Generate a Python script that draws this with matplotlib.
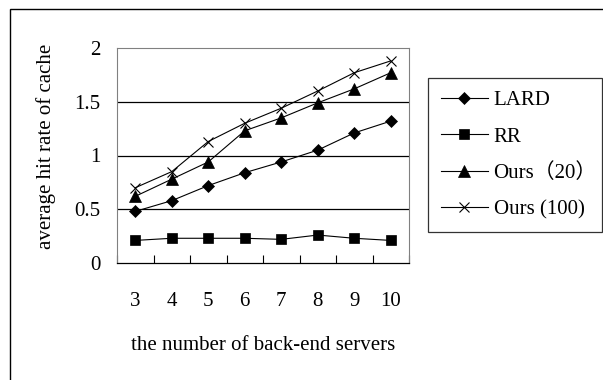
import matplotlib
matplotlib.use('Agg')
import matplotlib.pyplot as plt
from matplotlib.patches import Rectangle
import numpy as np

plt.rcParams['font.family'] = ['Liberation Serif', 'Noto Sans CJK SC']

# data
servers = ['3', '4', '5', '6', '7', '8', '9', '10']
lard = [0.48, 0.58, 0.72, 0.84, 0.94, 1.05, 1.21, 1.32]
rr = [0.21, 0.23, 0.23, 0.23, 0.22, 0.26, 0.23, 0.21]
ours20 = [0.62, 0.78, 0.94, 1.23, 1.35, 1.49, 1.62, 1.77]
ours100 = [0.70, 0.85, 1.13, 1.30, 1.44, 1.60, 1.77, 1.88]
names = ['LARD', 'RR', 'Ours\uff0820\uff09', 'Ours (100)']

fig = plt.figure(figsize=(6.03, 3.80), dpi=100)
ax = fig.add_axes([117/603, 1 - 263/380, 292/603, 215/380])

# outer chart frame (runs off the right and bottom edges)
fig.patches.append(Rectangle((10/603, -0.2), 1.2, 1.2 - 9/380, transform=fig.transFigure,
                             fill=False, edgecolor='black', linewidth=1.0))

x = np.arange(len(servers))
series = [lard, rr, ours20, ours100]
markers = ['D', 's', '^', 'x']
msizes = [6.5, 7.5, 8, 7.5]
for vals, m, ms, name in zip(series, markers, msizes, names):
    ax.plot(x, vals, color='black', linewidth=0.8, marker=m, markersize=ms,
            markeredgewidth=0.8 if m == 'x' else 0.5, label=name)

ax.set_xlim(-0.5, len(servers) - 0.5)
ax.set_ylim(0, 2)
ax.set_yticks([0, 0.5, 1, 1.5, 2])
ax.set_yticklabels(['0', '0.5', '1', '1.5', '2'])
for yv in [0.5, 1, 1.5]:
    ax.axhline(yv, color='black', linewidth=0.9, zorder=0)

# category ticks sit between categories, labels at centres
ax.set_xticks(np.arange(len(servers) + 1) - 0.5)
ax.set_xticklabels([])
ax.set_xticks(x, minor=True)
ax.set_xticklabels(servers, minor=True)
ax.tick_params(axis='x', which='major', direction='in', length=6, width=0.8)
ax.tick_params(axis='x', which='minor', length=0, pad=21, labelsize=15)
ax.tick_params(axis='y', length=0, pad=12, labelsize=15)

for s in ['left', 'top', 'right']:
    ax.spines[s].set_color('#808080')
    ax.spines[s].set_linewidth(0.8)
ax.spines['bottom'].set_linewidth(0.9)

ax.set_xlabel('the number of back-end servers', fontsize=15, va='center')
ax.xaxis.set_label_coords(0.5, (263 - 345) / 215)
ax.set_ylabel('average hit rate of cache', fontsize=15, va='center')
ax.yaxis.set_label_coords((46 - 117) / 292, (263 - 146) / 215)

leg = fig.legend(loc='upper left', bbox_to_anchor=(428/603, 1 - 82/380, 174/603, 0.01),
                 mode='expand', frameon=True, fancybox=False, edgecolor='black',
                 fontsize=15, handlelength=2.3, handletextpad=0.25,
                 labelspacing=0.8, borderpad=0.6, borderaxespad=0)
leg.get_frame().set_linewidth(0.9)

fig.savefig('out.png', dpi=100)
